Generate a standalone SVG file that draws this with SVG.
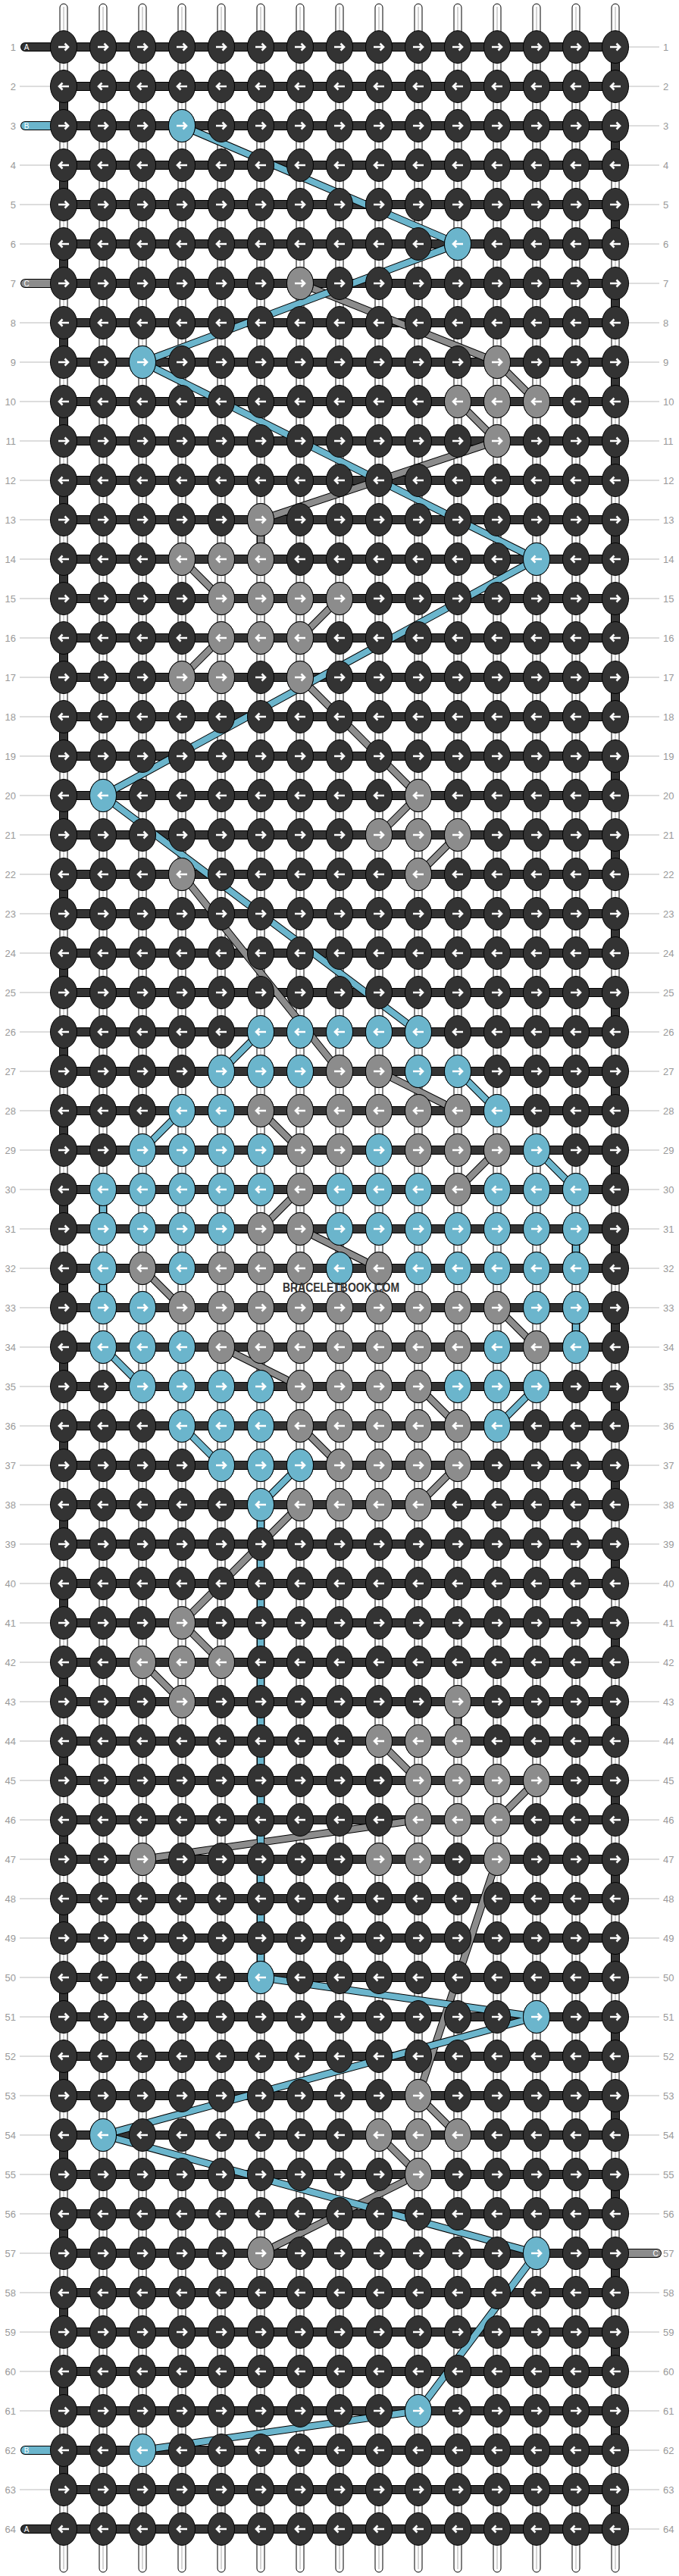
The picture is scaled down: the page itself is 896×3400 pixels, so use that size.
<svg xmlns="http://www.w3.org/2000/svg" xmlns:xlink="http://www.w3.org/1999/xlink" width="896" height="3400" viewBox="0 0 896 3400">
<style>
.e{stroke:#000;stroke-width:1}
.d{fill:#333}.b{fill:#6bb5cc}.g{fill:#8c8c8c}
.ar{fill:none;stroke:#fff;stroke-width:2.6}
.ln{fill:none;stroke:#bbb;stroke-width:1}
.n{font-family:"Liberation Sans",Arial,sans-serif;font-size:13px;fill:#999}
.s{font-family:"Liberation Sans",Arial,sans-serif;font-size:10px;fill:#fff}
.base{fill:#fff;stroke:#000;stroke-width:1}
.bc{stroke:#aaa;stroke-width:1}
.wo{fill:none;stroke:#000;stroke-width:12;stroke-linecap:round;stroke-linejoin:miter}
.wd{fill:none;stroke:#333;stroke-width:10;stroke-linecap:round;stroke-linejoin:miter}
.wb{fill:none;stroke:#6bb5cc;stroke-width:10;stroke-linecap:round}
.wg{fill:none;stroke:#8c8c8c;stroke-width:10;stroke-linecap:round}
.co{fill:none;stroke:#000;stroke-width:10;stroke-linejoin:round}
.cb{fill:none;stroke:#6bb5cc;stroke-width:8;stroke-linejoin:round}
.cg{fill:none;stroke:#8c8c8c;stroke-width:8;stroke-linejoin:round}
</style>
<defs>
<path id="ar" class="ar" d="M-7,0H5.5M1.5,-4.5L6,0L1.5,4.5"/>
<path id="al" class="ar" d="M7,0H-5.5M-1.5,-4.5L-6,0L-1.5,4.5"/>
<g id="dR"><ellipse class="d e" rx="17.5" ry="21.5"/><use href="#ar"/></g>
<g id="dL"><ellipse class="d e" rx="17.5" ry="21.5"/><use href="#al"/></g>
<g id="bR"><ellipse class="b e" rx="17.5" ry="21.5"/><use href="#ar"/></g>
<g id="bL"><ellipse class="b e" rx="17.5" ry="21.5"/><use href="#al"/></g>
<g id="gR"><ellipse class="g e" rx="17.5" ry="21.5"/><use href="#ar"/></g>
<g id="gL"><ellipse class="g e" rx="17.5" ry="21.5"/><use href="#al"/></g>
<g id="rowR"><use href="#dR" x="84"/><use href="#dR" x="136"/><use href="#dR" x="188"/><use href="#dR" x="240"/><use href="#dR" x="292"/><use href="#dR" x="344"/><use href="#dR" x="396"/><use href="#dR" x="448"/><use href="#dR" x="500"/><use href="#dR" x="552"/><use href="#dR" x="604"/><use href="#dR" x="656"/><use href="#dR" x="708"/><use href="#dR" x="760"/><use href="#dR" x="812"/></g>
<g id="rowL"><use href="#dL" x="84"/><use href="#dL" x="136"/><use href="#dL" x="188"/><use href="#dL" x="240"/><use href="#dL" x="292"/><use href="#dL" x="344"/><use href="#dL" x="396"/><use href="#dL" x="448"/><use href="#dL" x="500"/><use href="#dL" x="552"/><use href="#dL" x="604"/><use href="#dL" x="656"/><use href="#dL" x="708"/><use href="#dL" x="760"/><use href="#dL" x="812"/></g>
<g id="bs"><rect class="base" x="-5" y="5" width="10" height="3390" rx="5"/><line class="bc" x1="0" y1="9" x2="0" y2="3391"/></g>
<path id="pA" d="M33,62H812V114H84V166H812V218H84V270H812V322H84V374H812V426H84V478H812V530H84V582H812V634H84V686H812V738H84V790H812V842H84V894H812V946H84V998H812V1050H84V1102H812V1154H84V1206H812V1258H84V1310H812V1362H84V1414H812V1466H84V1518H812V1570H84V1622H812V1674H84V1726H812V1778H84V1830H812V1882H84V1934H812V1986H84V2038H812V2090H84V2142H812V2194H84V2246H812V2298H84V2350H812V2402H84V2454H812V2506H84V2558H812V2610H84V2662H812V2714H84V2766H812V2818H84V2870H812V2922H84V2974H812V3026H84V3078H812V3130H84V3182H812V3234H84V3286H812V3338H33"/>
<path id="pB" d="M240,166L604,322L188,478L708,738L136,1050L552,1362M344,1362L292,1414M604,1414L656,1466M240,1466L188,1518M708,1518L760,1570M136,1570V1622M136,1674V1726M760,1622V1674M760,1726V1778M136,1778L188,1830M708,1830L656,1882M240,1882L292,1934M396,1934L344,1986V2610L708,2662L136,2818L708,2974L552,3182L188,3234"/>
<path id="pC" d="M396,374L656,478L708,530M604,530L656,582L344,686V738M240,738L292,790M448,790L396,842M292,842L240,894M396,894L552,1050L500,1102M604,1102L552,1154M240,1154L448,1414M500,1414L604,1466M344,1466L396,1518M656,1518L604,1570M396,1570L344,1622M396,1622L500,1674M188,1674L240,1726M656,1726L708,1778M292,1778L396,1830M552,1830L604,1882M396,1882L448,1934M604,1934L552,1986M396,1986L240,2142L292,2194M188,2194L240,2246M604,2246V2298M500,2298L552,2350M708,2350L656,2402M552,2402L188,2454M656,2454L552,2766L604,2818M500,2818L552,2870L344,2974"/>
</defs>
<rect width="896" height="3400" fill="#fff"/>
<g id="base-strings"><use href="#bs" x="84"/><use href="#bs" x="136"/><use href="#bs" x="188"/><use href="#bs" x="240"/><use href="#bs" x="292"/><use href="#bs" x="344"/><use href="#bs" x="396"/><use href="#bs" x="448"/><use href="#bs" x="500"/><use href="#bs" x="552"/><use href="#bs" x="604"/><use href="#bs" x="656"/><use href="#bs" x="708"/><use href="#bs" x="760"/><use href="#bs" x="812"/></g>
<g id="row-labels">
<path class="ln" d="M26,114H66M26,218H66M26,270H66M26,322H66M26,426H66M26,478H66M26,530H66M26,582H66M26,634H66M26,686H66M26,738H66M26,790H66M26,842H66M26,894H66M26,946H66M26,998H66M26,1050H66M26,1102H66M26,1154H66M26,1206H66M26,1258H66M26,1310H66M26,1362H66M26,1414H66M26,1466H66M26,1518H66M26,1570H66M26,1622H66M26,1674H66M26,1726H66M26,1778H66M26,1830H66M26,1882H66M26,1934H66M26,1986H66M26,2038H66M26,2090H66M26,2142H66M26,2194H66M26,2246H66M26,2298H66M26,2350H66M26,2402H66M26,2454H66M26,2506H66M26,2558H66M26,2610H66M26,2662H66M26,2714H66M26,2766H66M26,2818H66M26,2870H66M26,2922H66M26,2974H66M26,3026H66M26,3078H66M26,3130H66M26,3182H66M26,3286H66"/>
<path class="ln" d="M830,62H870M830,114H870M830,166H870M830,218H870M830,270H870M830,322H870M830,374H870M830,426H870M830,478H870M830,530H870M830,582H870M830,634H870M830,686H870M830,738H870M830,790H870M830,842H870M830,894H870M830,946H870M830,998H870M830,1050H870M830,1102H870M830,1154H870M830,1206H870M830,1258H870M830,1310H870M830,1362H870M830,1414H870M830,1466H870M830,1518H870M830,1570H870M830,1622H870M830,1674H870M830,1726H870M830,1778H870M830,1830H870M830,1882H870M830,1934H870M830,1986H870M830,2038H870M830,2090H870M830,2142H870M830,2194H870M830,2246H870M830,2298H870M830,2350H870M830,2402H870M830,2454H870M830,2506H870M830,2558H870M830,2610H870M830,2662H870M830,2714H870M830,2766H870M830,2818H870M830,2870H870M830,2922H870M830,3026H870M830,3078H870M830,3130H870M830,3182H870M830,3234H870M830,3286H870M830,3338H870"/>
<g class="n" text-anchor="end">
<text x="21" y="67">1</text><text x="21" y="119">2</text><text x="21" y="171">3</text><text x="21" y="223">4</text><text x="21" y="275">5</text><text x="21" y="327">6</text><text x="21" y="379">7</text><text x="21" y="431">8</text><text x="21" y="483">9</text><text x="21" y="535">10</text><text x="21" y="587">11</text><text x="21" y="639">12</text><text x="21" y="691">13</text><text x="21" y="743">14</text><text x="21" y="795">15</text><text x="21" y="847">16</text><text x="21" y="899">17</text><text x="21" y="951">18</text><text x="21" y="1003">19</text><text x="21" y="1055">20</text><text x="21" y="1107">21</text><text x="21" y="1159">22</text><text x="21" y="1211">23</text><text x="21" y="1263">24</text><text x="21" y="1315">25</text><text x="21" y="1367">26</text><text x="21" y="1419">27</text><text x="21" y="1471">28</text><text x="21" y="1523">29</text><text x="21" y="1575">30</text><text x="21" y="1627">31</text><text x="21" y="1679">32</text><text x="21" y="1731">33</text><text x="21" y="1783">34</text><text x="21" y="1835">35</text><text x="21" y="1887">36</text><text x="21" y="1939">37</text><text x="21" y="1991">38</text><text x="21" y="2043">39</text><text x="21" y="2095">40</text><text x="21" y="2147">41</text><text x="21" y="2199">42</text><text x="21" y="2251">43</text><text x="21" y="2303">44</text><text x="21" y="2355">45</text><text x="21" y="2407">46</text><text x="21" y="2459">47</text><text x="21" y="2511">48</text><text x="21" y="2563">49</text><text x="21" y="2615">50</text><text x="21" y="2667">51</text><text x="21" y="2719">52</text><text x="21" y="2771">53</text><text x="21" y="2823">54</text><text x="21" y="2875">55</text><text x="21" y="2927">56</text><text x="21" y="2979">57</text><text x="21" y="3031">58</text><text x="21" y="3083">59</text><text x="21" y="3135">60</text><text x="21" y="3187">61</text><text x="21" y="3239">62</text><text x="21" y="3291">63</text><text x="21" y="3343">64</text>
</g>
<g class="n">
<text x="875" y="67">1</text><text x="875" y="119">2</text><text x="875" y="171">3</text><text x="875" y="223">4</text><text x="875" y="275">5</text><text x="875" y="327">6</text><text x="875" y="379">7</text><text x="875" y="431">8</text><text x="875" y="483">9</text><text x="875" y="535">10</text><text x="875" y="587">11</text><text x="875" y="639">12</text><text x="875" y="691">13</text><text x="875" y="743">14</text><text x="875" y="795">15</text><text x="875" y="847">16</text><text x="875" y="899">17</text><text x="875" y="951">18</text><text x="875" y="1003">19</text><text x="875" y="1055">20</text><text x="875" y="1107">21</text><text x="875" y="1159">22</text><text x="875" y="1211">23</text><text x="875" y="1263">24</text><text x="875" y="1315">25</text><text x="875" y="1367">26</text><text x="875" y="1419">27</text><text x="875" y="1471">28</text><text x="875" y="1523">29</text><text x="875" y="1575">30</text><text x="875" y="1627">31</text><text x="875" y="1679">32</text><text x="875" y="1731">33</text><text x="875" y="1783">34</text><text x="875" y="1835">35</text><text x="875" y="1887">36</text><text x="875" y="1939">37</text><text x="875" y="1991">38</text><text x="875" y="2043">39</text><text x="875" y="2095">40</text><text x="875" y="2147">41</text><text x="875" y="2199">42</text><text x="875" y="2251">43</text><text x="875" y="2303">44</text><text x="875" y="2355">45</text><text x="875" y="2407">46</text><text x="875" y="2459">47</text><text x="875" y="2511">48</text><text x="875" y="2563">49</text><text x="875" y="2615">50</text><text x="875" y="2667">51</text><text x="875" y="2719">52</text><text x="875" y="2771">53</text><text x="875" y="2823">54</text><text x="875" y="2875">55</text><text x="875" y="2927">56</text><text x="875" y="2979">57</text><text x="875" y="3031">58</text><text x="875" y="3083">59</text><text x="875" y="3135">60</text><text x="875" y="3187">61</text><text x="875" y="3239">62</text><text x="875" y="3291">63</text><text x="875" y="3343">64</text>
</g>
</g>
<g id="working-strings">
<use href="#pA" class="wo"/><use href="#pA" class="wd"/>
<path class="wo" d="M33,166H84M33,3234H84M33,374H84M812,2974H867"/>
<path class="wb" d="M33,166H84M33,3234H84"/>
<path class="wg" d="M33,374H84M812,2974H867"/>
<g class="s" text-anchor="middle"><text x="35" y="66">A</text><text x="35" y="170">B</text><text x="35" y="378">C</text><text x="865" y="2978">C</text><text x="35" y="3238">B</text><text x="35" y="3342">A</text></g>
</g>
<g id="connectors">
<use href="#pC" class="co"/><use href="#pC" class="cg"/>
<use href="#pB" class="co"/><use href="#pB" class="cb"/>
</g>
<g id="knots">
<g id="r1" transform="translate(0,62)"><use href="#rowR"/></g>
<g id="r2" transform="translate(0,114)"><use href="#rowL"/></g>
<g id="r3" transform="translate(0,166)"><use href="#rowR"/><use href="#bR" x="240"/></g>
<g id="r4" transform="translate(0,218)"><use href="#rowL"/></g>
<g id="r5" transform="translate(0,270)"><use href="#rowR"/></g>
<g id="r6" transform="translate(0,322)"><use href="#rowL"/><use href="#bL" x="604"/></g>
<g id="r7" transform="translate(0,374)"><use href="#rowR"/><use href="#gR" x="396"/></g>
<g id="r8" transform="translate(0,426)"><use href="#rowL"/></g>
<g id="r9" transform="translate(0,478)"><use href="#rowR"/><use href="#bR" x="188"/><use href="#gR" x="656"/></g>
<g id="r10" transform="translate(0,530)"><use href="#rowL"/><use href="#gL" x="604"/><use href="#gL" x="656"/><use href="#gL" x="708"/></g>
<g id="r11" transform="translate(0,582)"><use href="#rowR"/><use href="#gR" x="656"/></g>
<g id="r12" transform="translate(0,634)"><use href="#rowL"/></g>
<g id="r13" transform="translate(0,686)"><use href="#rowR"/><use href="#gR" x="344"/></g>
<g id="r14" transform="translate(0,738)"><use href="#rowL"/><use href="#gL" x="240"/><use href="#gL" x="292"/><use href="#gL" x="344"/><use href="#bL" x="708"/></g>
<g id="r15" transform="translate(0,790)"><use href="#rowR"/><use href="#gR" x="292"/><use href="#gR" x="344"/><use href="#gR" x="396"/><use href="#gR" x="448"/></g>
<g id="r16" transform="translate(0,842)"><use href="#rowL"/><use href="#gL" x="292"/><use href="#gL" x="344"/><use href="#gL" x="396"/></g>
<g id="r17" transform="translate(0,894)"><use href="#rowR"/><use href="#gR" x="240"/><use href="#gR" x="292"/><use href="#gR" x="396"/></g>
<g id="r18" transform="translate(0,946)"><use href="#rowL"/></g>
<g id="r19" transform="translate(0,998)"><use href="#rowR"/></g>
<g id="r20" transform="translate(0,1050)"><use href="#rowL"/><use href="#bL" x="136"/><use href="#gL" x="552"/></g>
<g id="r21" transform="translate(0,1102)"><use href="#rowR"/><use href="#gR" x="500"/><use href="#gR" x="552"/><use href="#gR" x="604"/></g>
<g id="r22" transform="translate(0,1154)"><use href="#rowL"/><use href="#gL" x="240"/><use href="#gL" x="552"/></g>
<g id="r23" transform="translate(0,1206)"><use href="#rowR"/></g>
<g id="r24" transform="translate(0,1258)"><use href="#rowL"/></g>
<g id="r25" transform="translate(0,1310)"><use href="#rowR"/></g>
<g id="r26" transform="translate(0,1362)"><use href="#rowL"/><use href="#bL" x="344"/><use href="#bL" x="396"/><use href="#bL" x="448"/><use href="#bL" x="500"/><use href="#bL" x="552"/></g>
<g id="r27" transform="translate(0,1414)"><use href="#rowR"/><use href="#bR" x="292"/><use href="#bR" x="344"/><use href="#bR" x="396"/><use href="#gR" x="448"/><use href="#gR" x="500"/><use href="#bR" x="552"/><use href="#bR" x="604"/></g>
<g id="r28" transform="translate(0,1466)"><use href="#rowL"/><use href="#bL" x="240"/><use href="#bL" x="292"/><use href="#gL" x="344"/><use href="#gL" x="396"/><use href="#gL" x="448"/><use href="#gL" x="500"/><use href="#gL" x="552"/><use href="#gL" x="604"/><use href="#bL" x="656"/></g>
<g id="r29" transform="translate(0,1518)"><use href="#rowR"/><use href="#bR" x="188"/><use href="#bR" x="240"/><use href="#bR" x="292"/><use href="#bR" x="344"/><use href="#gR" x="396"/><use href="#gR" x="448"/><use href="#bR" x="500"/><use href="#gR" x="552"/><use href="#gR" x="604"/><use href="#gR" x="656"/><use href="#bR" x="708"/></g>
<g id="r30" transform="translate(0,1570)"><use href="#rowL"/><use href="#bL" x="136"/><use href="#bL" x="188"/><use href="#bL" x="240"/><use href="#bL" x="292"/><use href="#bL" x="344"/><use href="#gL" x="396"/><use href="#bL" x="448"/><use href="#bL" x="500"/><use href="#bL" x="552"/><use href="#gL" x="604"/><use href="#bL" x="656"/><use href="#bL" x="708"/><use href="#bL" x="760"/></g>
<g id="r31" transform="translate(0,1622)"><use href="#rowR"/><use href="#bR" x="136"/><use href="#bR" x="188"/><use href="#bR" x="240"/><use href="#bR" x="292"/><use href="#gR" x="344"/><use href="#gR" x="396"/><use href="#bR" x="448"/><use href="#bR" x="500"/><use href="#bR" x="552"/><use href="#bR" x="604"/><use href="#bR" x="656"/><use href="#bR" x="708"/><use href="#bR" x="760"/></g>
<g id="r32" transform="translate(0,1674)"><use href="#rowL"/><use href="#bL" x="136"/><use href="#gL" x="188"/><use href="#bL" x="240"/><use href="#gL" x="292"/><use href="#gL" x="344"/><use href="#gL" x="396"/><use href="#bL" x="448"/><use href="#gL" x="500"/><use href="#bL" x="552"/><use href="#bL" x="604"/><use href="#bL" x="656"/><use href="#bL" x="708"/><use href="#bL" x="760"/></g>
<g id="r33" transform="translate(0,1726)"><use href="#rowR"/><use href="#bR" x="136"/><use href="#bR" x="188"/><use href="#gR" x="240"/><use href="#gR" x="292"/><use href="#gR" x="344"/><use href="#gR" x="396"/><use href="#gR" x="448"/><use href="#gR" x="500"/><use href="#gR" x="552"/><use href="#gR" x="604"/><use href="#gR" x="656"/><use href="#bR" x="708"/><use href="#bR" x="760"/></g>
<g id="r34" transform="translate(0,1778)"><use href="#rowL"/><use href="#bL" x="136"/><use href="#bL" x="188"/><use href="#bL" x="240"/><use href="#gL" x="292"/><use href="#gL" x="344"/><use href="#gL" x="396"/><use href="#gL" x="448"/><use href="#gL" x="500"/><use href="#gL" x="552"/><use href="#gL" x="604"/><use href="#bL" x="656"/><use href="#gL" x="708"/><use href="#bL" x="760"/></g>
<g id="r35" transform="translate(0,1830)"><use href="#rowR"/><use href="#bR" x="188"/><use href="#bR" x="240"/><use href="#bR" x="292"/><use href="#bR" x="344"/><use href="#gR" x="396"/><use href="#gR" x="448"/><use href="#gR" x="500"/><use href="#gR" x="552"/><use href="#bR" x="604"/><use href="#bR" x="656"/><use href="#bR" x="708"/></g>
<g id="r36" transform="translate(0,1882)"><use href="#rowL"/><use href="#bL" x="240"/><use href="#bL" x="292"/><use href="#bL" x="344"/><use href="#gL" x="396"/><use href="#gL" x="448"/><use href="#gL" x="500"/><use href="#gL" x="552"/><use href="#gL" x="604"/><use href="#bL" x="656"/></g>
<g id="r37" transform="translate(0,1934)"><use href="#rowR"/><use href="#bR" x="292"/><use href="#bR" x="344"/><use href="#bR" x="396"/><use href="#gR" x="448"/><use href="#gR" x="500"/><use href="#gR" x="552"/><use href="#gR" x="604"/></g>
<g id="r38" transform="translate(0,1986)"><use href="#rowL"/><use href="#bL" x="344"/><use href="#gL" x="396"/><use href="#gL" x="448"/><use href="#gL" x="500"/><use href="#gL" x="552"/></g>
<g id="r39" transform="translate(0,2038)"><use href="#rowR"/></g>
<g id="r40" transform="translate(0,2090)"><use href="#rowL"/></g>
<g id="r41" transform="translate(0,2142)"><use href="#rowR"/><use href="#gR" x="240"/></g>
<g id="r42" transform="translate(0,2194)"><use href="#rowL"/><use href="#gL" x="188"/><use href="#gL" x="240"/><use href="#gL" x="292"/></g>
<g id="r43" transform="translate(0,2246)"><use href="#rowR"/><use href="#gR" x="240"/><use href="#gR" x="604"/></g>
<g id="r44" transform="translate(0,2298)"><use href="#rowL"/><use href="#gL" x="500"/><use href="#gL" x="552"/><use href="#gL" x="604"/></g>
<g id="r45" transform="translate(0,2350)"><use href="#rowR"/><use href="#gR" x="552"/><use href="#gR" x="604"/><use href="#gR" x="656"/><use href="#gR" x="708"/></g>
<g id="r46" transform="translate(0,2402)"><use href="#rowL"/><use href="#gL" x="552"/><use href="#gL" x="604"/><use href="#gL" x="656"/></g>
<g id="r47" transform="translate(0,2454)"><use href="#rowR"/><use href="#gR" x="188"/><use href="#gR" x="500"/><use href="#gR" x="552"/><use href="#gR" x="656"/></g>
<g id="r48" transform="translate(0,2506)"><use href="#rowL"/></g>
<g id="r49" transform="translate(0,2558)"><use href="#rowR"/></g>
<g id="r50" transform="translate(0,2610)"><use href="#rowL"/><use href="#bL" x="344"/></g>
<g id="r51" transform="translate(0,2662)"><use href="#rowR"/><use href="#bR" x="708"/></g>
<g id="r52" transform="translate(0,2714)"><use href="#rowL"/></g>
<g id="r53" transform="translate(0,2766)"><use href="#rowR"/><use href="#gR" x="552"/></g>
<g id="r54" transform="translate(0,2818)"><use href="#rowL"/><use href="#bL" x="136"/><use href="#gL" x="500"/><use href="#gL" x="552"/><use href="#gL" x="604"/></g>
<g id="r55" transform="translate(0,2870)"><use href="#rowR"/><use href="#gR" x="552"/></g>
<g id="r56" transform="translate(0,2922)"><use href="#rowL"/></g>
<g id="r57" transform="translate(0,2974)"><use href="#rowR"/><use href="#gR" x="344"/><use href="#bR" x="708"/></g>
<g id="r58" transform="translate(0,3026)"><use href="#rowL"/></g>
<g id="r59" transform="translate(0,3078)"><use href="#rowR"/></g>
<g id="r60" transform="translate(0,3130)"><use href="#rowL"/></g>
<g id="r61" transform="translate(0,3182)"><use href="#rowR"/><use href="#bR" x="552"/></g>
<g id="r62" transform="translate(0,3234)"><use href="#rowL"/><use href="#bL" x="188"/></g>
<g id="r63" transform="translate(0,3286)"><use href="#rowR"/></g>
<g id="r64" transform="translate(0,3338)"><use href="#rowL"/></g>
</g>
<text id="watermark" x="450" y="1705" text-anchor="middle" font-family="'Liberation Sans', Arial, sans-serif" font-weight="bold" font-size="16" fill="#333" textLength="154" lengthAdjust="spacingAndGlyphs">BRACELETBOOK.COM</text>
</svg>
